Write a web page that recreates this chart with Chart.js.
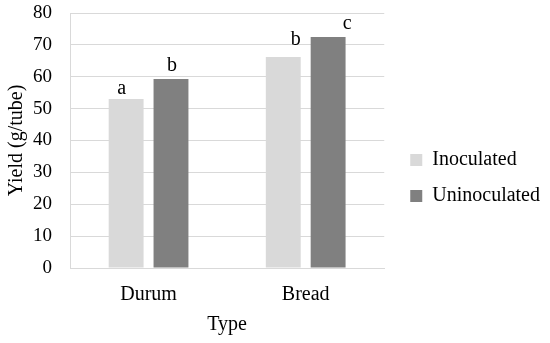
<!DOCTYPE html>
<html>
<head>
<meta charset="utf-8">
<script src="https://cdn.jsdelivr.net/npm/chart.js@4"></script>
<style>
html,body{margin:0;padding:0;background:#fff;}
#wrap{width:550px;height:343px;}
</style>
</head>
<body>
<div id="wrap"><canvas id="c" width="550" height="343"></canvas></div>
<script>
const categories = ["Durum", "Bread"];
const inoculated = [53.0, 66.2];
const uninoculated = [59.3, 72.5];
const inoculatedLetters = ["a", "b"];
const uninoculatedLetters = ["b", "c"];
const yTicks = [0, 10, 20, 30, 40, 50, 60, 70, 80];

const FONT = "'Liberation Serif', 'Times New Roman', serif";
// label offsets (style only): [dx, gap]
const letterStyle = [
  [[-4.5, 5], [12.5, 11.5]],
  [[1, 8], [19, 8]]
];

const letterPlugin = {
  id: 'letters',
  afterDatasetsDraw(chart) {
    const ctx = chart.ctx;
    const sets = [inoculatedLetters, uninoculatedLetters];
    ctx.save();
    ctx.font = "20px " + FONT;
    ctx.fillStyle = "#000";
    ctx.textAlign = "center";
    ctx.textBaseline = "alphabetic";
    sets.forEach((letters, di) => {
      const meta = chart.getDatasetMeta(di);
      meta.data.forEach((bar, i) => {
        const st = letterStyle[di][i];
        ctx.fillText(letters[i], bar.x + st[0], bar.y - st[1]);
      });
    });
    ctx.restore();
  }
};

new Chart(document.getElementById('c'), {
  type: 'bar',
  data: {
    labels: categories,
    datasets: [
      { label: 'Inoculated', data: inoculated, backgroundColor: '#d9d9d9', categoryPercentage: 0.571, barPercentage: 0.778 },
      { label: 'Uninoculated', data: uninoculated, backgroundColor: '#808080', categoryPercentage: 0.571, barPercentage: 0.778 }
    ]
  },
  options: {
    responsive: false,
    animation: false,
    devicePixelRatio: 1,
    layout: { padding: { left: 0, right: 0, top: 13, bottom: 0 } },
    plugins: {
      legend: {
        position: 'right',
        align: 'center',
        maxWidth: 220,
        labels: {
          boxWidth: 12, boxHeight: 12, padding: 16,
          color: '#000',
          font: { family: FONT, size: 20 }
        }
      },
      tooltip: { enabled: false }
    },
    scales: {
      x: {
        afterFit(scale) { scale.height = 75; scale.paddingLeft = 0; scale.paddingRight = 0; },
        grid: { display: false, drawTicks: false },
        border: { display: true, color: '#d9d9d9', width: 1 },
        ticks: { color: '#000', font: { family: FONT, size: 20 }, padding: 15, maxRotation: 0 },
        title: { display: true, text: 'Type', color: '#000', font: { family: FONT, size: 20 }, padding: { top: 0, bottom: 6 } }
      },
      y: {
        min: 0, max: 80,
        afterFit(scale) { scale.width = 70; scale.paddingTop = 0; scale.paddingBottom = 0; },
        afterBuildTicks(scale) { scale.ticks = yTicks.map(v => ({ value: v })); },
        grid: { color: '#d9d9d9', drawTicks: false, lineWidth: 1 },
        border: { display: true, color: '#d9d9d9', width: 1 },
        ticks: { color: '#000', font: { family: FONT, size: 19 }, padding: 18 },
        title: { display: true, text: 'Yield (g/tube)', color: '#000', font: { family: FONT, size: 20 }, padding: { top: 5, bottom: 0 } }
      },
      gap: {
        position: 'right',
        min: 0, max: 1,
        afterFit(scale) { scale.width = 10; scale.paddingTop = 0; scale.paddingBottom = 0; },
        grid: { display: false, drawTicks: false },
        border: { display: false },
        ticks: { display: false }
      }
    }
  },
  plugins: [letterPlugin]
});
</script>
</body>
</html>
